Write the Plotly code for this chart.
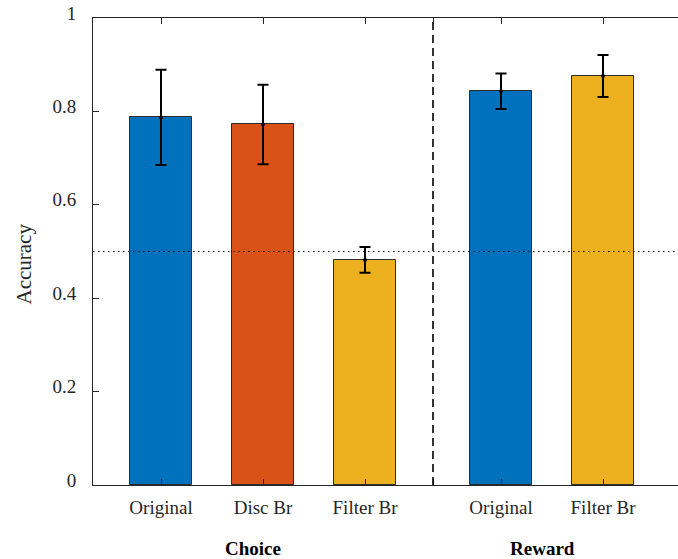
import plotly.graph_objects as go

# Classifier accuracy per condition, grouped by task
categories = ["Original", "Disc Br", "Filter Br", "Original", "Filter Br"]
groups = ["Choice", "Choice", "Choice", "Reward", "Reward"]
positions = [1, 2, 3, 13 / 3, 16 / 3]
accuracy = [0.787, 0.772, 0.482, 0.843, 0.876]
error = [0.102, 0.085, 0.0275, 0.038, 0.045]
bar_colors = ["#0072BD", "#D95319", "#EDB120", "#0072BD", "#EDB120"]

separator_x = 11 / 3
chance_level = 0.5

ytick_vals = [0, 0.2, 0.4, 0.6, 0.8, 1]
ytick_text = ["0", "0.2", "0.4", "0.6", "0.8", "1"]

AX = "#262626"
FONT = "Liberation Serif"

fig = go.Figure()

fig.add_trace(go.Bar(
    x=positions,
    y=accuracy,
    width=0.6,
    marker=dict(color=bar_colors, line=dict(color="#2b2b2b", width=1)),
    showlegend=False,
))

fig.add_trace(go.Scatter(
    x=positions,
    y=accuracy,
    mode="markers",
    marker=dict(color="black", size=4),
    error_y=dict(type="data", array=error, visible=True,
                 color="black", thickness=2, width=5.5),
    showlegend=False,
))

# chance level
fig.add_shape(type="line", xref="paper", x0=0, x1=1, yref="y",
              y0=chance_level, y1=chance_level,
              line=dict(color="black", width=1, dash="1.5px,3.5px"))

# divider between the two tasks
fig.add_shape(type="line", xref="x", x0=separator_x, x1=separator_x,
              yref="y", y0=0, y1=1,
              line=dict(color="black", width=1.6, dash="8px,5px"))

# group labels under the tick labels
for g in ["Choice", "Reward"]:
    xs = [p for p, gg in zip(positions, groups) if gg == g]
    fig.add_annotation(x=sum(xs) / len(xs), xref="x", y=0, yref="paper",
                       yanchor="middle", yshift=-63, xshift=-10,
                       text="<b>%s</b>" % g, showarrow=False,
                       font=dict(family=FONT, size=19, color="black"))

# y axis title
fig.add_annotation(x=0, xref="paper", xshift=-70, xanchor="center",
                   y=0.5, yref="paper", yshift=-13, yanchor="middle",
                   text="Accuracy", textangle=-90, showarrow=False,
                   font=dict(family=FONT, size=21, color=AX))

fig.update_xaxes(
    range=[1 / 3, 1 / 3 + 585 / 102],
    tickvals=positions + [separator_x],
    ticktext=categories + [""],
    ticks="inside", ticklen=6, tickcolor=AX, tickwidth=1,
    showline=True, linecolor=AX, linewidth=1, mirror="ticks",
    showgrid=False, zeroline=False,
    tickfont=dict(family=FONT, size=19, color=AX),
    ticklabelstandoff=5,
)
fig.update_yaxes(
    range=[0, 1],
    tickvals=ytick_vals, ticktext=ytick_text,
    ticks="inside", ticklen=6, tickcolor=AX, tickwidth=1,
    showline=True, linecolor=AX, linewidth=1, mirror=False,
    showgrid=False, zeroline=False,
    tickfont=dict(family=FONT, size=19, color=AX),
    ticklabelshift=-5, ticklabelstandoff=12,
)

fig.update_layout(
    width=678, height=559,
    margin=dict(l=93, r=0, t=18, b=74),
    paper_bgcolor="white", plot_bgcolor="white",
    font=dict(family=FONT, size=19, color=AX),
    bargap=0,
)

fig.write_html("out.html")
